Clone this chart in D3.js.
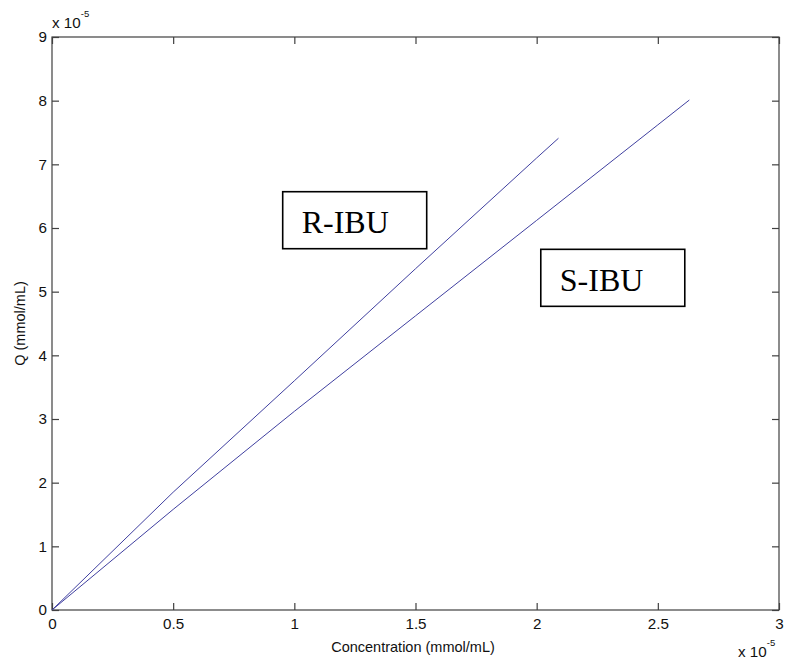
<!DOCTYPE html>
<html><head><meta charset="utf-8">
<script src="https://cdn.jsdelivr.net/npm/d3@7"></script>
<style>body{margin:0;background:#fff}svg{display:block}</style>
</head><body><svg id="c" width="786" height="663"></svg>
<script>
// data (units of 1e-5)
const rConc = [0, 0.5, 1.0, 1.5, 2.0, 2.09];
const rQ    = [0, 1.85, 3.60, 5.36, 7.10, 7.41];
const sConc = [0, 0.5, 1.0, 1.5, 2.0, 2.5, 2.63];
const sQ    = [0, 1.58, 3.12, 4.62, 6.12, 7.62, 8.01];
const xTicks = [0, 0.5, 1, 1.5, 2, 2.5, 3];
const yTicks = [0, 1, 2, 3, 4, 5, 6, 7, 8, 9];
const xTitle = "Concentration (mmol/mL)";
const yTitle = "Q (mmol/mL)";
const labels = [{text:"R-IBU", x:0.952, y:6.57}, {text:"S-IBU", x:2.017, y:5.665}];

const svg = d3.select("#c");
const L = 52, R = 779, T = 37, B = 610;
const x = d3.scaleLinear().domain([0, 3]).range([L, R]);
const y = d3.scaleLinear().domain([0, 9]).range([B, T]);
const axisColor = "#404040";
const font = "Arial, 'Liberation Sans', Helvetica, sans-serif";
const fs = 14.5, tfs = 15.2;

// frame
svg.append("rect").attr("x", L).attr("y", T).attr("width", R - L).attr("height", B - T)
  .attr("fill", "none").attr("stroke", axisColor).attr("stroke-width", 1.2);

const tl = 7;
const gx = svg.append("g").attr("transform", `translate(0,${B})`)
  .call(d3.axisBottom(x).tickValues(xTicks).tickSizeInner(-tl).tickSizeOuter(0).tickPadding(8.5)
    .tickFormat(d => d3.format("")(d)));
const gxt = svg.append("g").attr("transform", `translate(0,${T})`)
  .call(d3.axisTop(x).tickValues(xTicks).tickSizeInner(-tl).tickSizeOuter(0).tickFormat(""));
const gy = svg.append("g").attr("transform", `translate(${L},0)`)
  .call(d3.axisLeft(y).tickValues(yTicks).tickSizeInner(-tl).tickSizeOuter(0).tickPadding(5));
const gyr = svg.append("g").attr("transform", `translate(${R},0)`)
  .call(d3.axisRight(y).tickValues(yTicks).tickSizeInner(-tl).tickSizeOuter(0).tickFormat(""));
[gx, gxt, gy, gyr].forEach(g => {
  g.select(".domain").remove();
  g.selectAll("line").attr("stroke", axisColor).attr("stroke-width", 1.2);
  g.selectAll("text").attr("fill", "#111").attr("font-family", font).attr("font-size", tfs);
});

// lines
const line = d3.line().x(d => x(d[0])).y(d => y(d[1]));
svg.append("path").datum(rConc.map((c, i) => [c, rQ[i]])).attr("d", line)
  .attr("fill", "none").attr("stroke", "#4040a0").attr("stroke-width", 1);
svg.append("path").datum(sConc.map((c, i) => [c, sQ[i]])).attr("d", line)
  .attr("fill", "none").attr("stroke", "#4040a0").attr("stroke-width", 1);

// multipliers
function mult(px, py) {
  const t = svg.append("text").attr("x", px).attr("y", py).attr("font-family", font)
    .attr("font-size", tfs).attr("fill", "#111");
  t.append("tspan").text("x 10");
  t.append("tspan").attr("dy", -11).attr("font-size", 9.5).text("-5");
}
mult(52, 28);
mult(738, 657);

// titles
svg.append("text").attr("x", 413).attr("y", 652).attr("text-anchor", "middle")
  .attr("font-family", font).attr("font-size", fs).attr("fill", "#111").text(xTitle);
svg.append("text").attr("transform", `translate(25,${(T + B) / 2}) rotate(-90)`)
  .attr("text-anchor", "middle").attr("font-family", font).attr("font-size", fs)
  .attr("fill", "#111").text(yTitle);

// label boxes
labels.forEach(l => {
  const bx = x(l.x), by = y(l.y);
  svg.append("rect").attr("x", bx).attr("y", by).attr("width", 144).attr("height", 57)
    .attr("fill", "#fff").attr("stroke", "#000").attr("stroke-width", 1.6);
  svg.append("text").attr("x", bx + 19).attr("y", by + 41.5)
    .attr("font-family", "'Liberation Serif', 'Times New Roman', serif").attr("font-size", 32)
    .attr("fill", "#000").text(l.text);
});
</script></body></html>
